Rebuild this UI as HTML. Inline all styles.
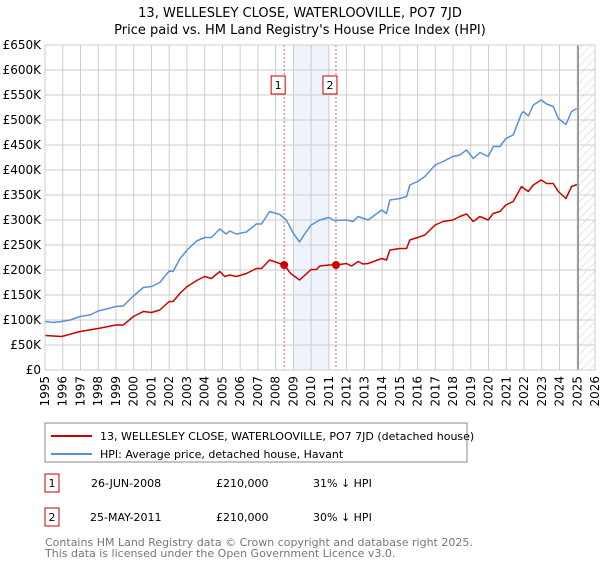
<!DOCTYPE html>
<html><head><meta charset="utf-8"><style>
body{margin:0;background:#fff;font-family:"Liberation Sans","DejaVu Sans",sans-serif;}
svg text{font-family:"DejaVu Sans","Liberation Sans",sans-serif;}
</style></head><body>
<svg id="chart" width="600" height="560" xmlns="http://www.w3.org/2000/svg">
<defs><pattern id="hatch" width="6" height="6" patternUnits="userSpaceOnUse" patternTransform="rotate(45)"><line x1="0" y1="0" x2="0" y2="6" stroke="#ccc" stroke-width="1"/></pattern></defs>
<text x="300" y="17" text-anchor="middle" font-size="13">13, WELLESLEY CLOSE, WATERLOOVILLE, PO7 7JD</text>
<text x="300" y="34" text-anchor="middle" font-size="13">Price paid vs. HM Land Registry's House Price Index (HPI)</text>
<g id="plot"></g>
<g>
<rect x="45" y="423" width="422" height="39" fill="#fff" stroke="#888"/>
<line x1="51" y1="436" x2="92" y2="436" stroke="#cc0000" stroke-width="2"/>
<text x="100" y="440" font-size="11">13, WELLESLEY CLOSE, WATERLOOVILLE, PO7 7JD (detached house)</text>
<line x1="51" y1="454" x2="92" y2="454" stroke="#5b8fd4" stroke-width="2"/>
<text x="100" y="458" font-size="11">HPI: Average price, detached house, Havant</text>
</g>
<g font-size="11">
<rect x="45" y="474" width="14" height="18" fill="#fff" stroke="#cc0000"/><text x="52" y="487" text-anchor="middle">1</text>
<text x="91" y="487">26-JUN-2008</text><text x="216" y="487">£210,000</text><text x="313" y="487">31% ↓ HPI</text>
<rect x="45" y="508" width="14" height="18" fill="#fff" stroke="#cc0000"/><text x="52" y="521" text-anchor="middle">2</text>
<text x="90" y="521">25-MAY-2011</text><text x="216" y="521">£210,000</text><text x="313" y="521">30% ↓ HPI</text>
</g>
<text x="45" y="546" font-size="11" fill="#777">Contains HM Land Registry data © Crown copyright and database right 2025.</text>
<text x="45" y="557" font-size="11" fill="#777">This data is licensed under the Open Government Licence v3.0.</text>
</svg>
<script>
const hpiYears=[1995.0,1995.47,1995.94,1996.41,1996.97,1997.53,1998.0,1998.47,1998.99,1999.41,1999.99,2000.54,2001.0,2001.47,2002.0,2002.22,2002.6,2003.01,2003.54,2004.0,2004.38,2004.85,2005.22,2005.41,2005.79,2006.35,2006.91,2007.2,2007.66,2008.23,2008.6,2009.0,2009.35,2009.6,2010.0,2010.49,2011.0,2011.3,2011.99,2012.37,2012.65,2013.21,2013.98,2014.25,2014.44,2015.0,2015.38,2015.56,2016.0,2016.41,2016.99,2017.44,2017.99,2018.38,2018.76,2019.14,2019.51,2019.98,2020.26,2020.64,2020.98,2021.39,2021.86,2021.97,2022.24,2022.52,2022.97,2023.27,2023.65,2023.93,2024.36,2024.68,2024.98];
const hpiValues=[97,95,97,100,107,110,118,122,127,128,148,165,167,175,198,197,222,240,258,265,265,282,272,278,272,276,292,292,317,311,300,273,256,270,290,300,305,299,300,297,307,300,320,313,340,343,347,370,377,387,410,417,427,430,440,423,435,427,447,447,463,470,513,517,508,530,540,532,527,503,491,517,523];
const ppYears=[1995.0,1995.94,1996.97,1998.0,1998.99,1999.41,1999.99,2000.54,2001.0,2001.47,2002.0,2002.22,2002.6,2003.01,2003.6,2004.0,2004.38,2004.85,2005.13,2005.41,2005.79,2006.35,2006.91,2007.2,2007.66,2008.48,2008.85,2009.35,2010.0,2010.3,2010.49,2011.0,2011.4,2011.99,2012.28,2012.65,2012.93,2013.21,2013.98,2014.25,2014.44,2015.0,2015.38,2015.56,2016.0,2016.41,2016.99,2017.44,2017.99,2018.38,2018.76,2019.14,2019.51,2019.98,2020.26,2020.64,2020.98,2021.39,2021.86,2022.24,2022.52,2022.97,2023.27,2023.65,2023.93,2024.36,2024.68,2024.98];
const ppValues=[69,67,77,83,90,90,107,117,115,120,137,137,153,167,180,187,183,197,187,190,187,193,203,203,220,210,193,180,201,201,208,210,210,213,208,217,212,213,223,220,240,243,243,260,265,270,290,297,300,307,312,297,307,300,313,317,330,337,367,357,370,380,373,373,357,343,367,371];
const saleYears=[2008.48,2011.4];
const saleValues=[210,210];
const saleLabels=["1","2"];
const yTicks=[0,50,100,150,200,250,300,350,400,450,500,550,600,650];
const xTicks=[1995,1996,1997,1998,1999,2000,2001,2002,2003,2004,2005,2006,2007,2008,2009,2010,2011,2012,2013,2014,2015,2016,2017,2018,2019,2020,2021,2022,2023,2024,2025,2026];

const L=45,R=595,T=45,B=370,x0=1995,x1=2026,yMax=650;
const X=y=>L+(y-x0)/(x1-x0)*(R-L);
const Y=v=>B-v/yMax*(B-T);
const NS="http://www.w3.org/2000/svg";
const g=document.getElementById('plot');
function mk(tag,attrs){const e=document.createElementNS(NS,tag);for(const k in attrs)e.setAttribute(k,attrs[k]);g.appendChild(e);return e;}

let e=mk('rect',{x:X(2009),y:T,width:X(2011)-X(2009),height:B-T,fill:'#eef3fc'});


e=mk('rect',{x:X(2025.05),y:T,width:R-X(2025.05),height:B-T,fill:'url(#hatch)'});



yTicks.forEach(v=>{
  let l=mk('line',{x1:L,x2:R,y1:Y(v),y2:Y(v),stroke:'#cccccc','stroke-width':1});
  
  
  let t=mk('text',{x:L-4,y:Y(v)+4,'text-anchor':'end','font-size':12});
  
  
  t.textContent=v===0?'£0':'£'+v+'K';
});
xTicks.forEach(yr=>{
  let l=mk('line',{x1:X(yr),x2:X(yr),y1:T,y2:B,stroke:'#cccccc','stroke-width':1});
  
  
  let t=mk('text',{x:0,y:0,'text-anchor':'end','font-size':12,transform:`translate(${X(yr)+4},376) rotate(-90)`});
  
  
  t.textContent=yr;
});
e=mk('line',{x1:X(2025.05),x2:X(2025.05),y1:T,y2:B,stroke:'#888','stroke-width':1.5});



saleYears.forEach((yr,i)=>{
  let l=mk('line',{x1:X(yr),x2:X(yr),y1:T,y2:B,stroke:'#e06060','stroke-width':1,'stroke-dasharray':'2,2'});
  
  
  let r=mk('rect',{x:X(yr)-13,y:76,width:14,height:18,fill:'#fff',stroke:'#cc0000'});
  
  
  let t=mk('text',{x:X(yr)-6,y:89,'text-anchor':'middle','font-size':11});
  
  
  t.textContent=saleLabels[i];
});

function line(xs,vs,color,name){
  const p=mk('polyline',{points:xs.map((yr,i)=>X(yr).toFixed(1)+','+Y(vs[i]).toFixed(1)).join(' '),fill:'none',stroke:color,'stroke-width':1.5,'stroke-linejoin':'round'});
  
  
}
line(hpiYears,hpiValues,'#5b8fd4','hpi-line');
line(ppYears,ppValues,'#cc0000','price-paid-line');
saleYears.forEach((yr,i)=>{
  let c=mk('circle',{cx:X(yr),cy:Y(saleValues[i]),r:4,fill:'#cc0000'});
  
  
});
e=mk('rect',{x:L,y:T,width:R-L,height:B-T,fill:'none',stroke:'#cccccc'});


</script>
</body></html>
